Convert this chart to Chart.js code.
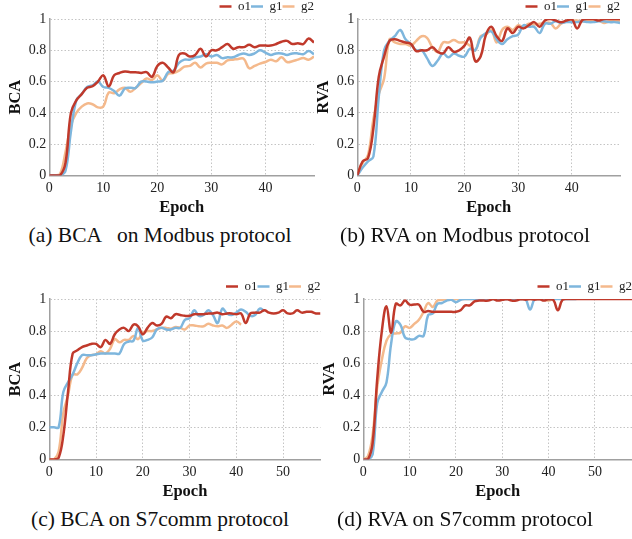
<!DOCTYPE html>
<html>
<head>
<meta charset="utf-8">
<script src="https://cdn.jsdelivr.net/npm/chart.js@4.4.0/dist/chart.umd.min.js"></script>
<style>
  html, body { margin: 0; padding: 0; background: #fff; }
  body { width: 632px; height: 539px; position: relative; overflow: hidden; }
  canvas { position: absolute; }
  .cap { position: absolute; width: 316px; text-align: center; font-family: 'Liberation Serif', 'Times New Roman', serif; font-size: 21.5px; line-height: 24px; white-space: pre; color: #111; }
</style>
</head>
<body>
<canvas id="bcaModbus" width="316" height="218" style="left:0;top:0"></canvas>
<canvas id="rvaModbus" width="316" height="218" style="left:308px;top:0"></canvas>
<canvas id="bcaS7" width="322" height="222" style="left:0;top:280px"></canvas>
<canvas id="rvaS7" width="318" height="222" style="left:314px;top:280px"></canvas>
<div class="cap" style="left:2px;top:223px">(a) BCA   on Modbus protocol</div>
<div class="cap" style="left:307px;top:223px">(b) RVA on Modbus protocol</div>
<div class="cap" style="left:2px;top:507px">(c) BCA on S7comm protocol</div>
<div class="cap" style="left:307px;top:507px">(d) RVA on S7comm protocol</div>
<script>
// series names + colours
var seriesNames = ['o1', 'g1', 'g2']
var seriesColors = ['#C0392B', '#7EB6DD', '#F4B98C']
var yTickStep = 0.2
var xTickStep = 10

// (a) BCA on Modbus, epochs 0..49
var bcaModbusO1 = [0, 0, 0, 0.08, 0.40, 0.48, 0.52, 0.56, 0.57, 0.60, 0.64, 0.57, 0.64, 0.655, 0.665, 0.66, 0.66, 0.655, 0.66, 0.63,
  0.70, 0.72, 0.69, 0.66, 0.77, 0.78, 0.76, 0.77, 0.81, 0.76, 0.80, 0.80, 0.82, 0.84, 0.81, 0.82, 0.82, 0.835, 0.82, 0.83,
  0.83, 0.83, 0.84, 0.855, 0.86, 0.84, 0.845, 0.84, 0.875, 0.85]
var bcaModbusG1 = [0, 0, 0, 0.03, 0.28, 0.48, 0.52, 0.565, 0.575, 0.60, 0.565, 0.56, 0.54, 0.51, 0.555, 0.56, 0.56, 0.60, 0.60, 0.595,
  0.60, 0.605, 0.66, 0.67, 0.72, 0.74, 0.74, 0.755, 0.76, 0.775, 0.76, 0.77, 0.75, 0.755, 0.755, 0.77, 0.78, 0.77, 0.78, 0.80,
  0.785, 0.77, 0.78, 0.78, 0.77, 0.78, 0.78, 0.775, 0.795, 0.775]
var bcaModbusG2 = [0, 0, 0.01, 0.15, 0.32, 0.40, 0.44, 0.46, 0.455, 0.435, 0.44, 0.53, 0.525, 0.55, 0.56, 0.535, 0.56, 0.59, 0.62, 0.61,
  0.64, 0.605, 0.65, 0.655, 0.67, 0.695, 0.70, 0.72, 0.69, 0.715, 0.72, 0.72, 0.71, 0.735, 0.74, 0.745, 0.745, 0.685, 0.70, 0.715,
  0.725, 0.74, 0.73, 0.755, 0.725, 0.73, 0.74, 0.75, 0.74, 0.76]

// (b) RVA on Modbus, epochs 0..49
var rvaModbusO1 = [0, 0.09, 0.11, 0.30, 0.63, 0.76, 0.86, 0.87, 0.86, 0.85, 0.84, 0.795, 0.80, 0.80, 0.82, 0.79, 0.78, 0.82, 0.79, 0.80,
  0.83, 0.88, 0.73, 0.76, 0.90, 0.95, 0.89, 0.86, 0.94, 0.91, 0.95, 0.94, 0.96, 0.98, 0.95, 0.99, 1.0, 0.99, 0.98, 0.99,
  1.0, 0.94, 0.995, 1.0, 1.0, 0.99, 1.0, 1.0, 1.0, 1.0]
var rvaModbusG1 = [0, 0.05, 0.09, 0.12, 0.50, 0.80, 0.86, 0.89, 0.93, 0.87, 0.84, 0.80, 0.80, 0.75, 0.70, 0.735, 0.78, 0.755, 0.78, 0.765,
  0.76, 0.81, 0.80, 0.88, 0.91, 0.92, 0.87, 0.84, 0.87, 0.89, 0.90, 0.96, 0.95, 0.95, 0.91, 0.97, 0.97, 0.985, 0.975, 0.98,
  0.98, 0.98, 0.985, 0.98, 0.98, 0.985, 0.985, 0.98, 0.98, 0.975]
var rvaModbusG2 = [0.01, 0.08, 0.13, 0.36, 0.52, 0.62, 0.87, 0.85, 0.84, 0.84, 0.83, 0.86, 0.89, 0.88, 0.82, 0.79, 0.85, 0.85, 0.865, 0.85,
  0.85, 0.83, 0.80, 0.89, 0.90, 0.93, 0.85, 0.93, 0.95, 0.93, 0.96, 0.95, 0.97, 0.965, 0.97, 0.975, 0.975, 0.94, 0.97, 0.985,
  0.99, 0.99, 0.985, 0.99, 0.985, 0.99, 0.975, 0.985, 0.99, 0.985]

// (c) BCA on S7comm, o1 epochs 0..58, g1 0..46, g2 0..41
var bcaS7O1 = [0, 0, 0.01, 0.15, 0.42, 0.66, 0.68, 0.70, 0.71, 0.72, 0.72, 0.70, 0.745, 0.72, 0.78, 0.81, 0.82, 0.80, 0.84, 0.83,
  0.78, 0.82, 0.85, 0.835, 0.845, 0.89, 0.88, 0.905, 0.90, 0.895, 0.895, 0.905, 0.905, 0.905, 0.91, 0.91, 0.915, 0.905, 0.91, 0.91,
  0.905, 0.91, 0.85, 0.91, 0.915, 0.915, 0.93, 0.915, 0.91, 0.915, 0.93, 0.91, 0.91, 0.93, 0.915, 0.92, 0.92, 0.91, 0.91]
var bcaS7G1 = [0.20, 0.20, 0.20, 0.42, 0.48, 0.53, 0.60, 0.65, 0.65, 0.65, 0.655, 0.66, 0.66, 0.66, 0.66, 0.66, 0.72, 0.735, 0.74, 0.82,
  0.74, 0.745, 0.76, 0.81, 0.82, 0.81, 0.81, 0.82, 0.82, 0.87, 0.88, 0.93, 0.895, 0.90, 0.93, 0.90, 0.85, 0.94, 0.91, 0.90,
  0.915, 0.935, 0.92, 0.895, 0.90, 0.94, 0.925]
var bcaS7G2 = [0, 0, 0.05, 0.29, 0.40, 0.53, 0.53, 0.57, 0.63, 0.65, 0.655, 0.675, 0.66, 0.69, 0.75, 0.73, 0.745, 0.745, 0.77, 0.75,
  0.79, 0.80, 0.80, 0.81, 0.82, 0.82, 0.815, 0.825, 0.82, 0.81, 0.835, 0.835, 0.83, 0.83, 0.845, 0.835, 0.83, 0.835, 0.82, 0.84,
  0.86, 0.84]

// (d) RVA on S7comm
var rvaS7O1 = [0, 0, 0.10, 0.50, 0.80, 0.955, 0.79, 0.97, 0.96, 0.99, 0.965, 0.965, 0.965, 0.92, 0.925, 0.92, 0.92, 0.92, 0.92, 0.92,
  0.92, 0.93, 0.96, 0.96, 0.985, 0.99, 0.99, 0.99, 1.0, 0.99, 0.995, 1.0, 0.99, 0.99, 1.0, 0.995, 1.0, 0.995, 1.0, 0.99,
  1.0, 0.995, 0.93, 0.995, 1.0, 1.0, 1.0, 1.0, 1.0, 1.0, 1.0, 1.0, 1.0, 1.0, 1.0, 1.0, 1.0, 1.0, 1.0]
var rvaS7G1 = [0, 0, 0.03, 0.35, 0.42, 0.48, 0.72, 0.86, 0.84, 0.76, 0.75, 0.75, 0.77, 0.77, 0.90, 0.91, 0.97, 0.975, 0.99, 0.995,
  0.98, 0.995, 1.0, 1.0, 1.0, 1.0, 1.0, 1.0, 1.0, 1.0, 1.0, 1.0, 1.0, 1.0, 1.0, 1.0, 0.935, 1.0, 1.0, 1.0,
  1.0, 1.0, 1.0, 1.0, 1.0, 1.0, 1.0]
var rvaS7G2 = [0, 0.02, 0.15, 0.45, 0.62, 0.74, 0.78, 0.785, 0.79, 0.83, 0.82, 0.845, 0.87, 0.92, 0.975, 0.95, 0.99, 0.995, 1.0, 1.0,
  1.0, 1.0, 1.0, 1.0, 1.0, 1.0, 1.0, 1.0, 1.0, 1.0, 1.0, 1.0, 1.0, 1.0, 1.0, 1.0, 1.0, 1.0, 1.0, 1.0,
  0.99, 1.0]

Chart.defaults.font.family = "'Liberation Serif', 'Times New Roman', serif"
Chart.defaults.color = '#222'

function toPoints(arr) {
  return arr.map(function (v, i) { return {x: i, y: v} })
}

function makeChart(id, yTitle, xMax, series, padRight) {
  var datasets = series.map(function (s, i) {
    return {
      label: seriesNames[i],
      data: toPoints(s),
      borderColor: seriesColors[i],
      backgroundColor: seriesColors[i],
      borderWidth: 2.5,
      pointRadius: 0,
      tension: 0.4,
      fill: false
    }
  })
  return new Chart(document.getElementById(id), {
    type: 'line',
    data: {datasets: datasets},
    options: {
      responsive: false,
      animation: false,
      devicePixelRatio: 1,
      layout: {padding: {left: 6, right: padRight, top: 0, bottom: 0}},
      plugins: {
        tooltip: {enabled: false},
        legend: {
          position: 'top',
          align: 'end',
          maxHeight: 19,
          labels: {
            usePointStyle: true,
            pointStyle: 'line',
            pointStyleWidth: 12,
            padding: 0,
            color: '#222',
            font: {size: 13}
          }
        }
      },
      scales: {
        x: {
          type: 'linear',
          min: 0,
          max: xMax,
          ticks: {stepSize: xTickStep, includeBounds: false, padding: 5, font: {size: 14}, maxRotation: 0},
          grid: {color: '#c4c4c4', drawTicks: false},
          border: {display: true, color: '#a0a0a0', width: 1.5, dash: [1.5, 2]},
          title: {display: true, text: 'Epoch', font: {size: 16.5, weight: 'bold'}, padding: {top: -4, bottom: 0}, color: '#111'}
        },
        y: {
          min: 0,
          max: 1,
          ticks: {
            stepSize: yTickStep,
            padding: 3,
            font: {size: 14},
            callback: function (v) { return String(Math.round(v * 10) / 10) }
          },
          grid: {color: '#c4c4c4', drawTicks: false},
          border: {display: true, color: '#a0a0a0', width: 1.5, dash: [1.5, 2]},
          title: {display: true, text: yTitle, font: {size: 16.5, weight: 'bold'}, padding: {top: 0, bottom: 0}, color: '#111'}
        }
      }
    }
  })
}

makeChart('bcaModbus', 'BCA', 49, [bcaModbusO1, bcaModbusG1, bcaModbusG2], 2)
makeChart('rvaModbus', 'RVA', 49, [rvaModbusO1, rvaModbusG1, rvaModbusG2], 4)
makeChart('bcaS7', 'BCA', 58, [bcaS7O1, bcaS7G1, bcaS7G2], 1.5)
makeChart('rvaS7', 'RVA', 58, [rvaS7O1, rvaS7G1, rvaS7G2], 0)
</script>
</body>
</html>
